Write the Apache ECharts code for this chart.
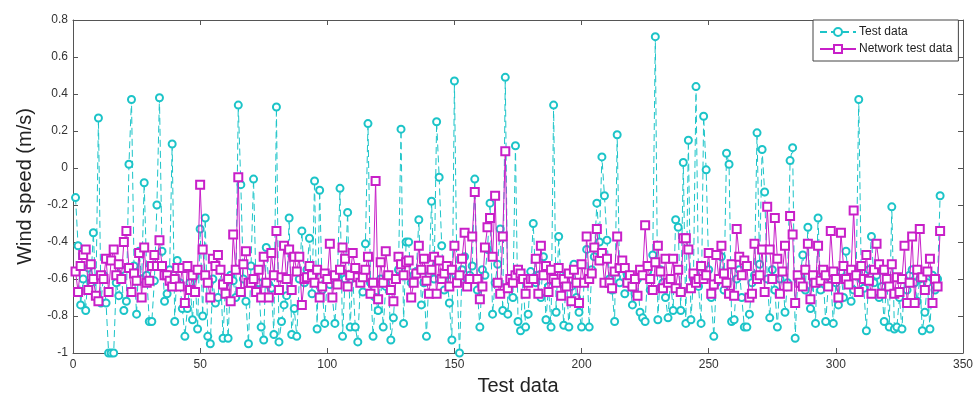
<!DOCTYPE html>
<html>
<head>
<meta charset="utf-8">
<script src="https://cdn.jsdelivr.net/npm/echarts@6/dist/echarts.min.js"></script>
<style>
  html, body { margin: 0; padding: 0; background: #fff; }
  #chart { width: 979px; height: 401px; }
</style>
</head>
<body>
<div id="chart"></div>
<script>
// values, sample index 1..341
var testData = [
  -0.16,-0.42,-0.74,-0.60,-0.77,-0.54,-0.62,-0.35,-0.69,0.27,
  -0.73,-0.58,-0.73,-1.0,-1.0,-1.0,-0.62,-0.69,-0.55,-0.77,
  -0.72,0.02,0.37,-0.53,-0.79,-0.45,-0.60,-0.08,-0.58,-0.83,
  -0.83,-0.61,-0.20,0.38,-0.45,-0.72,-0.68,-0.55,0.13,-0.83,
  -0.50,-0.62,-0.76,-0.91,-0.76,-0.62,-0.82,-0.58,-0.87,-0.33,
  -0.80,-0.27,-0.91,-0.95,-0.60,-0.73,-0.70,-0.55,-0.92,-0.62,
  -0.92,-0.58,-0.61,-0.70,0.34,-0.09,-0.60,-0.72,-0.95,-0.53,
  -0.06,-0.66,-0.62,-0.86,-0.93,-0.43,-0.63,-0.65,-0.90,0.33,
  -0.94,-0.83,-0.74,-0.69,-0.27,-0.90,-0.76,-0.91,-0.60,-0.34,
  -0.62,-0.55,-0.38,-0.68,-0.07,-0.87,-0.12,-0.66,-0.84,-0.58,
  -0.63,-0.70,-0.84,-0.58,-0.11,-0.91,-0.60,-0.24,-0.86,-0.58,
  -0.86,-0.94,-0.62,-0.67,-0.41,0.24,-0.62,-0.91,-0.70,-0.77,
  -0.60,-0.86,-0.64,-0.58,-0.93,-0.81,-0.60,-0.55,0.21,-0.84,
  -0.40,-0.40,-0.62,-0.58,-0.56,-0.28,-0.74,-0.62,-0.91,-0.58,
  -0.18,-0.60,0.25,-0.05,-0.42,-0.66,-0.58,-0.73,-0.93,0.47,
  -0.60,-1.0,-0.55,-0.48,-0.60,-0.58,-0.53,-0.06,-0.66,-0.86,
  -0.55,-0.58,-0.44,-0.19,-0.79,-0.62,-0.52,-0.33,-0.77,0.49,
  -0.79,-0.60,-0.70,0.12,-0.83,-0.88,-0.60,-0.86,-0.79,-0.56,
  -0.30,-0.62,-0.58,-0.70,-0.48,-0.82,-0.64,-0.86,0.34,-0.78,
  -0.37,-0.62,-0.85,-0.58,-0.86,-0.64,-0.52,-0.70,-0.78,-0.86,
  -0.62,-0.44,-0.86,-0.55,-0.48,-0.19,-0.40,0.06,-0.15,-0.39,
  -0.60,-0.66,-0.83,0.18,-0.62,-0.52,-0.68,-0.58,-0.63,-0.74,
  -0.68,-0.60,-0.78,-0.81,-0.83,-0.56,-0.66,-0.47,0.71,-0.82,
  -0.55,-0.62,-0.70,-0.81,-0.60,-0.77,-0.28,-0.32,-0.77,0.03,
  -0.84,0.15,-0.82,-0.60,0.44,-0.64,-0.84,0.28,-0.01,-0.55,
  -0.70,-0.91,-0.62,-0.60,-0.48,-0.66,0.08,0.02,-0.83,-0.82,
  -0.60,-0.55,-0.70,-0.86,-0.86,-0.79,-0.62,-0.58,0.19,-0.52,
  0.10,-0.13,-0.60,-0.81,-0.55,-0.66,-0.86,-0.60,-0.56,-0.78,
  -0.62,0.04,0.11,-0.92,-0.60,-0.58,-0.47,-0.66,-0.32,-0.76,
  -0.62,-0.84,-0.27,-0.66,-0.58,-0.83,-0.64,-0.60,-0.84,-0.62,
  -0.74,-0.56,-0.70,-0.45,-0.62,-0.72,-0.66,-0.58,0.37,-0.60,
  -0.65,-0.88,-0.55,-0.37,-0.62,-0.58,-0.70,-0.64,-0.83,-0.60,
  -0.86,-0.21,-0.87,-0.86,-0.70,-0.87,-0.60,-0.66,-0.58,-0.55,
  -0.62,-0.72,-0.60,-0.88,-0.78,-0.62,-0.87,-0.58,-0.66,-0.60,
  -0.15
];

var networkData = [
  -0.56,-0.67,-0.53,-0.47,-0.44,-0.66,-0.52,-0.60,-0.69,-0.72,
  -0.58,-0.60,-0.49,-0.67,-0.50,-0.44,-0.58,-0.52,-0.60,-0.40,
  -0.34,-0.54,-0.67,-0.57,-0.61,-0.46,-0.70,-0.43,-0.62,-0.61,
  -0.53,-0.47,-0.53,-0.39,-0.53,-0.58,-0.58,-0.61,-0.64,-0.60,
  -0.54,-0.64,-0.54,-0.73,-0.53,-0.66,-0.58,-0.67,-0.55,-0.09,
  -0.44,-0.58,-0.62,-0.70,-0.49,-0.53,-0.47,-0.55,-0.63,-0.68,
  -0.60,-0.72,-0.36,-0.55,-0.05,-0.67,-0.52,-0.45,-0.62,-0.62,
  -0.60,-0.67,-0.55,-0.70,-0.48,-0.62,-0.70,-0.46,-0.58,-0.34,
  -0.66,-0.59,-0.42,-0.60,-0.44,-0.66,-0.48,-0.56,-0.48,-0.74,
  -0.60,-0.59,-0.53,-0.58,-0.62,-0.55,-0.70,-0.64,-0.57,-0.60,
  -0.41,-0.70,-0.58,-0.63,-0.55,-0.43,-0.49,-0.64,-0.58,-0.46,
  -0.54,-0.59,-0.62,-0.59,-0.55,-0.48,-0.68,-0.62,-0.07,-0.71,
  -0.51,-0.62,-0.45,-0.58,-0.66,-0.72,-0.60,-0.48,-0.52,-0.58,
  -0.51,-0.50,-0.70,-0.62,-0.57,-0.42,-0.55,-0.49,-0.61,-0.68,
  -0.55,-0.48,-0.68,-0.50,-0.60,-0.57,-0.53,-0.64,-0.55,-0.42,
  -0.62,-0.58,-0.49,-0.35,-0.64,-0.60,-0.37,-0.13,-0.60,-0.71,
  -0.64,-0.43,-0.32,-0.27,-0.48,-0.15,-0.62,-0.68,-0.37,0.09,
  -0.65,-0.60,-0.62,-0.58,-0.55,-0.57,-0.60,-0.68,-0.62,-0.60,
  -0.60,-0.49,-0.68,-0.42,-0.58,-0.53,-0.67,-0.55,-0.60,-0.62,
  -0.54,-0.69,-0.60,-0.64,-0.57,-0.72,-0.55,-0.62,-0.73,-0.52,
  -0.62,-0.37,-0.60,-0.57,-0.43,-0.33,-0.50,-0.46,-0.62,-0.49,
  -0.62,-0.65,-0.56,-0.37,-0.54,-0.50,-0.54,-0.62,-0.58,-0.64,
  -0.60,-0.69,-0.55,-0.58,-0.31,-0.53,-0.60,-0.66,-0.51,-0.42,
  -0.56,-0.65,-0.49,-0.62,-0.60,-0.49,-0.65,-0.55,-0.67,-0.38,
  -0.38,-0.44,-0.65,-0.57,-0.62,-0.60,-0.53,-0.60,-0.58,-0.46,
  -0.68,-0.63,-0.47,-0.60,-0.42,-0.57,-0.62,-0.68,-0.52,-0.69,
  -0.33,-0.48,-0.58,-0.50,-0.53,-0.70,-0.68,-0.41,-0.60,-0.58,
  -0.44,-0.67,-0.21,-0.44,-0.60,-0.27,-0.49,-0.68,-0.56,-0.42,
  -0.64,-0.26,-0.36,-0.73,-0.58,-0.62,-0.64,-0.55,-0.41,-0.71,
  -0.58,-0.62,-0.42,-0.61,-0.55,-0.58,-0.64,-0.34,-0.56,-0.60,
  -0.70,-0.35,-0.53,-0.60,-0.63,-0.55,-0.23,-0.58,-0.67,-0.53,
  -0.60,-0.47,-0.61,-0.68,-0.55,-0.41,-0.52,-0.68,-0.55,-0.60,
  -0.64,-0.52,-0.68,-0.59,-0.67,-0.60,-0.42,-0.73,-0.62,-0.37,
  -0.73,-0.55,-0.33,-0.59,-0.66,-0.56,-0.49,-0.73,-0.60,-0.64,
  -0.34
];

var seriesNames = ['Test data', 'Network test data'];
var xTicks = [0, 50, 100, 150, 200, 250, 300, 350];
var yTicks = [-1, -0.8, -0.6, -0.4, -0.2, 0, 0.2, 0.4, 0.6, 0.8];

function toPoints(arr) {
  return arr.map(function (v, i) { return [i + 1, v]; });
}

var cyan = '#1cc4c8';
var magenta = '#c81fc8';
var axisColor = '#555';
var font = 'Liberation Sans';

var chart = echarts.init(document.getElementById('chart'));

var tickStyle = { show: true, inside: true, length: 5, lineStyle: { color: axisColor } };
var lineStyleAxis = { show: true, onZero: false, lineStyle: { color: axisColor } };

chart.setOption({
  animation: false,
  backgroundColor: '#fff',
  textStyle: { fontFamily: font },
  grid: { left: 73, right: 16, top: 20, bottom: 46 },
  legend: {
    data: seriesNames,
    orient: 'vertical',
    left: 813,
    top: 20,
    padding: [6, 6, 6, 6],
    itemGap: 5,
    itemWidth: 36,
    itemHeight: 10,
    backgroundColor: '#fff',
    borderColor: '#444',
    borderWidth: 1,
    borderRadius: 0,
    textStyle: { fontSize: 12, color: '#222', fontFamily: font, padding: [0, 0, 0, -2] }
  },
  xAxis: [{
    type: 'value',
    min: xTicks[0],
    max: xTicks[xTicks.length - 1],
    interval: 50,
    name: 'Test data',
    nameLocation: 'middle',
    nameGap: 23,
    nameTextStyle: { fontSize: 20, color: '#222' },
    axisLine: lineStyleAxis,
    axisTick: tickStyle,
    axisLabel: { color: '#333', fontSize: 12, margin: 6 },
    splitLine: { show: false }
  }, {
    type: 'value',
    position: 'top',
    min: xTicks[0],
    max: xTicks[xTicks.length - 1],
    interval: 50,
    axisLine: lineStyleAxis,
    axisTick: tickStyle,
    axisLabel: { show: false },
    splitLine: { show: false }
  }],
  yAxis: [{
    type: 'value',
    min: yTicks[0],
    max: yTicks[yTicks.length - 1],
    interval: 0.2,
    name: 'Wind speed (m/s)',
    nameLocation: 'middle',
    nameGap: 38,
    nameTextStyle: { fontSize: 20, color: '#222' },
    axisLine: lineStyleAxis,
    axisTick: tickStyle,
    axisLabel: {
      color: '#333', fontSize: 12, margin: 5,
      formatter: function (v) { return String(Math.round(v * 10) / 10); }
    },
    splitLine: { show: false }
  }, {
    type: 'value',
    position: 'right',
    min: yTicks[0],
    max: yTicks[yTicks.length - 1],
    interval: 0.2,
    axisLine: lineStyleAxis,
    axisTick: tickStyle,
    axisLabel: { show: false },
    splitLine: { show: false }
  }],
  series: [{
    name: seriesNames[0],
    type: 'line',
    data: toPoints(testData),
    symbol: 'emptyCircle',
    symbolSize: 7,
    showAllSymbol: true,
    lineStyle: { color: cyan, width: 1, type: [7, 4] },
    itemStyle: { color: cyan, borderColor: cyan, borderWidth: 1 },
    z: 2
  }, {
    name: seriesNames[1],
    type: 'line',
    data: toPoints(networkData),
    symbol: 'emptyRect',
    symbolSize: 8,
    showAllSymbol: true,
    lineStyle: { color: magenta, width: 1 },
    itemStyle: { color: magenta, borderColor: magenta, borderWidth: 1 },
    z: 3
  }]
});
</script>
</body>
</html>
